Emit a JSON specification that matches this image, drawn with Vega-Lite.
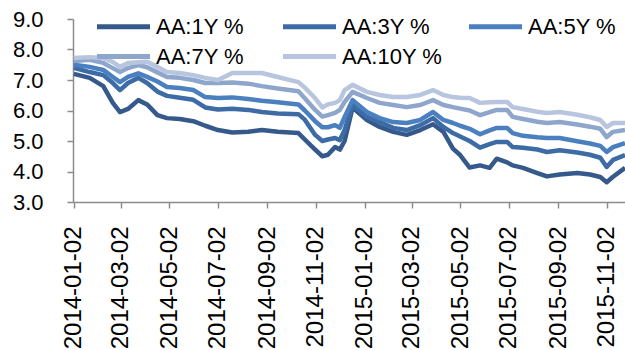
{
  "$schema": "https://vega.github.io/schema/vega-lite/v6.json",
  "autosize": "none",
  "width": 552,
  "height": 183,
  "padding": {"left": 73, "top": 19, "right": 0, "bottom": 148},
  "background": "white",
  "config": {"view": {"stroke": null}, "font": "Liberation Sans"},
  "data": {"values": [
    {"d":"2014-01-02","AA:1Y %":7.2,"AA:3Y %":7.4,"AA:5Y %":7.5,"AA:7Y %":7.62,"AA:10Y %":7.72},
    {"d":"2014-01-22","AA:1Y %":7.07,"AA:3Y %":7.26,"AA:5Y %":7.43,"AA:7Y %":7.66,"AA:10Y %":7.75},
    {"d":"2014-02-08","AA:1Y %":6.8,"AA:3Y %":7.16,"AA:5Y %":7.33,"AA:7Y %":7.56,"AA:10Y %":7.72},
    {"d":"2014-02-20","AA:1Y %":6.25,"AA:3Y %":6.9,"AA:5Y %":7.1,"AA:7Y %":7.39,"AA:10Y %":7.59},
    {"d":"2014-03-01","AA:1Y %":5.95,"AA:3Y %":6.67,"AA:5Y %":6.93,"AA:7Y %":7.26,"AA:10Y %":7.43},
    {"d":"2014-03-11","AA:1Y %":6.05,"AA:3Y %":6.9,"AA:5Y %":7.1,"AA:7Y %":7.39,"AA:10Y %":7.56},
    {"d":"2014-03-24","AA:1Y %":6.34,"AA:3Y %":7.07,"AA:5Y %":7.22,"AA:7Y %":7.49,"AA:10Y %":7.58},
    {"d":"2014-04-04","AA:1Y %":6.2,"AA:3Y %":6.9,"AA:5Y %":7.1,"AA:7Y %":7.42,"AA:10Y %":7.6},
    {"d":"2014-04-17","AA:1Y %":5.85,"AA:3Y %":6.62,"AA:5Y %":6.95,"AA:7Y %":7.25,"AA:10Y %":7.43},
    {"d":"2014-04-29","AA:1Y %":5.75,"AA:3Y %":6.48,"AA:5Y %":6.77,"AA:7Y %":7.1,"AA:10Y %":7.26},
    {"d":"2014-05-15","AA:1Y %":5.72,"AA:3Y %":6.42,"AA:5Y %":6.74,"AA:7Y %":7.07,"AA:10Y %":7.23},
    {"d":"2014-06-01","AA:1Y %":5.65,"AA:3Y %":6.35,"AA:5Y %":6.67,"AA:7Y %":7.0,"AA:10Y %":7.16},
    {"d":"2014-06-16","AA:1Y %":5.5,"AA:3Y %":6.1,"AA:5Y %":6.44,"AA:7Y %":6.9,"AA:10Y %":7.07},
    {"d":"2014-07-02","AA:1Y %":5.36,"AA:3Y %":6.03,"AA:5Y %":6.41,"AA:7Y %":6.9,"AA:10Y %":7.0},
    {"d":"2014-07-20","AA:1Y %":5.28,"AA:3Y %":6.06,"AA:5Y %":6.43,"AA:7Y %":6.92,"AA:10Y %":7.23},
    {"d":"2014-08-09","AA:1Y %":5.3,"AA:3Y %":6.02,"AA:5Y %":6.38,"AA:7Y %":6.88,"AA:10Y %":7.23},
    {"d":"2014-08-26","AA:1Y %":5.36,"AA:3Y %":5.95,"AA:5Y %":6.32,"AA:7Y %":6.8,"AA:10Y %":7.23},
    {"d":"2014-09-15","AA:1Y %":5.3,"AA:3Y %":5.9,"AA:5Y %":6.27,"AA:7Y %":6.72,"AA:10Y %":7.1},
    {"d":"2014-10-11","AA:1Y %":5.26,"AA:3Y %":5.88,"AA:5Y %":6.2,"AA:7Y %":6.63,"AA:10Y %":6.93},
    {"d":"2014-10-19","AA:1Y %":5.05,"AA:3Y %":5.7,"AA:5Y %":6.0,"AA:7Y %":6.4,"AA:10Y %":6.75},
    {"d":"2014-11-01","AA:1Y %":4.72,"AA:3Y %":5.2,"AA:5Y %":5.65,"AA:7Y %":6.02,"AA:10Y %":6.4},
    {"d":"2014-11-10","AA:1Y %":4.5,"AA:3Y %":5.0,"AA:5Y %":5.45,"AA:7Y %":5.8,"AA:10Y %":6.1},
    {"d":"2014-11-17","AA:1Y %":4.55,"AA:3Y %":5.05,"AA:5Y %":5.45,"AA:7Y %":5.85,"AA:10Y %":6.2},
    {"d":"2014-11-26","AA:1Y %":4.8,"AA:3Y %":5.1,"AA:5Y %":5.52,"AA:7Y %":5.92,"AA:10Y %":6.25},
    {"d":"2014-12-02","AA:1Y %":4.72,"AA:3Y %":5.03,"AA:5Y %":5.43,"AA:7Y %":6.02,"AA:10Y %":6.34},
    {"d":"2014-12-08","AA:1Y %":5.0,"AA:3Y %":5.36,"AA:5Y %":5.79,"AA:7Y %":6.28,"AA:10Y %":6.67},
    {"d":"2014-12-18","AA:1Y %":6.1,"AA:3Y %":6.18,"AA:5Y %":6.34,"AA:7Y %":6.61,"AA:10Y %":6.84},
    {"d":"2015-01-05","AA:1Y %":5.69,"AA:3Y %":5.79,"AA:5Y %":5.95,"AA:7Y %":6.41,"AA:10Y %":6.61},
    {"d":"2015-01-21","AA:1Y %":5.46,"AA:3Y %":5.62,"AA:5Y %":5.75,"AA:7Y %":6.25,"AA:10Y %":6.51},
    {"d":"2015-02-07","AA:1Y %":5.3,"AA:3Y %":5.43,"AA:5Y %":5.62,"AA:7Y %":6.18,"AA:10Y %":6.44},
    {"d":"2015-02-24","AA:1Y %":5.2,"AA:3Y %":5.36,"AA:5Y %":5.59,"AA:7Y %":6.11,"AA:10Y %":6.44},
    {"d":"2015-03-13","AA:1Y %":5.36,"AA:3Y %":5.52,"AA:5Y %":5.69,"AA:7Y %":6.18,"AA:10Y %":6.51},
    {"d":"2015-03-29","AA:1Y %":5.55,"AA:3Y %":5.75,"AA:5Y %":5.95,"AA:7Y %":6.34,"AA:10Y %":6.67},
    {"d":"2015-04-11","AA:1Y %":5.3,"AA:3Y %":5.46,"AA:5Y %":5.69,"AA:7Y %":6.18,"AA:10Y %":6.51},
    {"d":"2015-04-23","AA:1Y %":4.75,"AA:3Y %":5.26,"AA:5Y %":5.59,"AA:7Y %":6.11,"AA:10Y %":6.44},
    {"d":"2015-05-02","AA:1Y %":4.54,"AA:3Y %":5.15,"AA:5Y %":5.5,"AA:7Y %":6.06,"AA:10Y %":6.42},
    {"d":"2015-05-14","AA:1Y %":4.13,"AA:3Y %":5.0,"AA:5Y %":5.4,"AA:7Y %":6.0,"AA:10Y %":6.41},
    {"d":"2015-05-27","AA:1Y %":4.2,"AA:3Y %":4.78,"AA:5Y %":5.22,"AA:7Y %":5.85,"AA:10Y %":6.25},
    {"d":"2015-06-08","AA:1Y %":4.12,"AA:3Y %":4.9,"AA:5Y %":5.35,"AA:7Y %":5.95,"AA:10Y %":6.27},
    {"d":"2015-06-17","AA:1Y %":4.42,"AA:3Y %":4.97,"AA:5Y %":5.43,"AA:7Y %":6.02,"AA:10Y %":6.28},
    {"d":"2015-06-30","AA:1Y %":4.3,"AA:3Y %":4.97,"AA:5Y %":5.43,"AA:7Y %":6.02,"AA:10Y %":6.28},
    {"d":"2015-07-07","AA:1Y %":4.2,"AA:3Y %":4.8,"AA:5Y %":5.26,"AA:7Y %":5.79,"AA:10Y %":6.11},
    {"d":"2015-07-20","AA:1Y %":4.12,"AA:3Y %":4.78,"AA:5Y %":5.17,"AA:7Y %":5.72,"AA:10Y %":6.05},
    {"d":"2015-08-07","AA:1Y %":3.95,"AA:3Y %":4.72,"AA:5Y %":5.12,"AA:7Y %":5.63,"AA:10Y %":5.96},
    {"d":"2015-08-19","AA:1Y %":3.84,"AA:3Y %":4.64,"AA:5Y %":5.1,"AA:7Y %":5.59,"AA:10Y %":5.92},
    {"d":"2015-09-04","AA:1Y %":3.9,"AA:3Y %":4.7,"AA:5Y %":5.1,"AA:7Y %":5.62,"AA:10Y %":5.95},
    {"d":"2015-09-26","AA:1Y %":3.95,"AA:3Y %":4.62,"AA:5Y %":4.99,"AA:7Y %":5.54,"AA:10Y %":5.86},
    {"d":"2015-10-12","AA:1Y %":3.9,"AA:3Y %":4.55,"AA:5Y %":4.92,"AA:7Y %":5.47,"AA:10Y %":5.78},
    {"d":"2015-10-25","AA:1Y %":3.82,"AA:3Y %":4.45,"AA:5Y %":4.84,"AA:7Y %":5.4,"AA:10Y %":5.69},
    {"d":"2015-11-02","AA:1Y %":3.65,"AA:3Y %":4.15,"AA:5Y %":4.64,"AA:7Y %":5.13,"AA:10Y %":5.46},
    {"d":"2015-11-10","AA:1Y %":3.83,"AA:3Y %":4.38,"AA:5Y %":4.8,"AA:7Y %":5.3,"AA:10Y %":5.59},
    {"d":"2015-11-25","AA:1Y %":4.12,"AA:3Y %":4.54,"AA:5Y %":4.93,"AA:7Y %":5.36,"AA:10Y %":5.59}
  ]},
  "transform": [
    {"fold": ["AA:1Y %", "AA:3Y %", "AA:5Y %", "AA:7Y %", "AA:10Y %"], "as": ["series", "value"]}
  ],
  "mark": {"type": "line", "strokeWidth": 4.5, "strokeJoin": "round", "clip": true},
  "encoding": {
    "x": {
      "field": "d", "type": "temporal",
      "scale": {"type": "utc", "domain": [{"year": 2014, "month": 1, "date": 1, "utc": true}, {"year": 2015, "month": 11, "date": 25, "utc": true}]},
      "axis": {
        "title": null,
        "labelExpr": "utcFormat(datum.value, '%Y-%m-%d')",
        "values": [
          {"year": 2014, "month": 1, "date": 2, "utc": true},
          {"year": 2014, "month": 3, "date": 2, "utc": true},
          {"year": 2014, "month": 5, "date": 2, "utc": true},
          {"year": 2014, "month": 7, "date": 2, "utc": true},
          {"year": 2014, "month": 9, "date": 2, "utc": true},
          {"year": 2014, "month": 11, "date": 2, "utc": true},
          {"year": 2015, "month": 1, "date": 2, "utc": true},
          {"year": 2015, "month": 3, "date": 2, "utc": true},
          {"year": 2015, "month": 5, "date": 2, "utc": true},
          {"year": 2015, "month": 7, "date": 2, "utc": true},
          {"year": 2015, "month": 9, "date": 2, "utc": true},
          {"year": 2015, "month": 11, "date": 2, "utc": true}
        ],
        "labelAngle": 270,
        "labelAlign": "right",
        "labelBaseline": "middle",
        "labelFont": "Liberation Sans",
        "labelFontSize": 24,
        "labelColor": "#000000",
        "labelPadding": 18,
        "labelOverlap": false,
        "labelFlush": false,
        "labelBound": false,
        "grid": false,
        "domainColor": "#8c8c8c",
        "domainWidth": 1.5,
        "tickColor": "#8c8c8c",
        "tickWidth": 1.5,
        "tickSize": 6
      }
    },
    "y": {
      "field": "value", "type": "quantitative",
      "scale": {"domain": [3, 9], "nice": false, "zero": false},
      "axis": {
        "title": null,
        "values": [3, 4, 5, 6, 7, 8, 9],
        "format": ".1f",
        "labelFont": "Liberation Sans",
        "labelFontSize": 22,
        "labelColor": "#000000",
        "labelPadding": 24,
        "labelFlush": false,
        "grid": false,
        "domainColor": "#8c8c8c",
        "domainWidth": 1.5,
        "tickColor": "#8c8c8c",
        "tickWidth": 1.5,
        "tickSize": 6
      }
    },
    "color": {
      "field": "series", "type": "nominal",
      "scale": {
        "domain": ["AA:1Y %", "AA:3Y %", "AA:5Y %", "AA:7Y %", "AA:10Y %"],
        "range": ["#36598c", "#3d6ba6", "#4a7fc0", "#8ea6cc", "#b8c5de"]
      },
      "legend": {
        "title": null,
        "orient": "none",
        "legendX": 38,
        "legendY": -5,
        "direction": "horizontal",
        "columns": 3,
        "gridAlign": "all",
        "columnPadding": 16,
        "rowPadding": 6,
        "padding": 0,
        "symbolType": "M-2.65,0H2.65",
        "symbolSize": 400,
        "symbolStrokeWidth": 5,
        "labelOffset": 20,
        "labelFont": "Liberation Sans",
        "labelFontSize": 22,
        "labelColor": "#000000",
        "labelLimit": 300
      }
    }
  }
}
